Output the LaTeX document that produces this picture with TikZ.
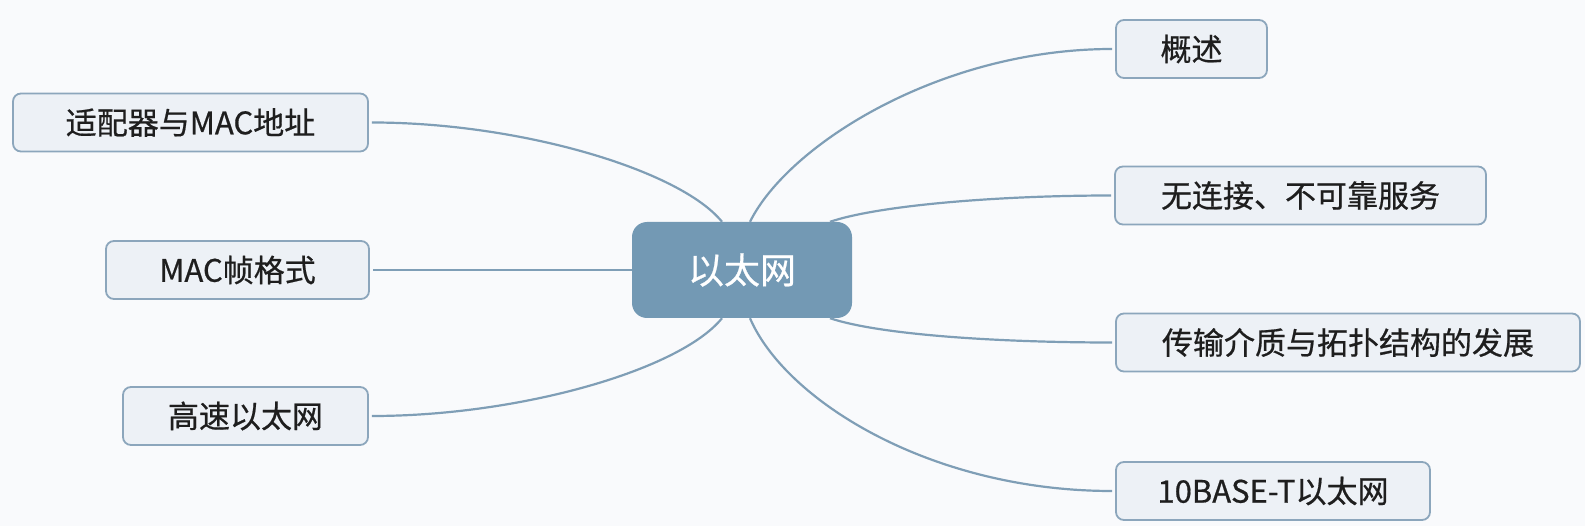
\documentclass[tikz,border=0pt]{standalone}
\usepackage{fontspec}
\setmainfont{Noto Sans CJK SC}
\newfontfamily\topicfont[FakeBold=0.6]{Noto Sans CJK SC}
\definecolor{bgc}{HTML}{F9FAFC}
\definecolor{hubfill}{HTML}{7399B4}
\definecolor{linec}{HTML}{7F9EB6}
\definecolor{boxfill}{HTML}{EDF1F6}
\definecolor{boxdraw}{HTML}{8CA6BC}
\definecolor{txt}{HTML}{1E1E1E}
\tikzset{
  hub/.style={fill=hubfill, draw=none, rounded corners=15pt, minimum width=220pt, minimum height=96pt, inner sep=0pt, text=white, font=\topicfont\fontsize{36}{40}\selectfont},
  topic/.style={fill=boxfill, draw=boxdraw, line width=1.8pt, rounded corners=8pt, minimum height=58pt, inner sep=0pt, text=txt, font=\topicfont\fontsize{31}{36}\selectfont},
  link/.style={draw=linec, line width=2.2pt}
}
\begin{document}
\begin{tikzpicture}[x=1pt,y=-1pt]
\fill[bgc] (0,0) rectangle (1585,526);
\useasboundingbox (0,0) rectangle (1585,526);
\node[hub] (h) at (742,270) {以太网};
\node[topic, minimum width=355pt] (a) at (190.5,122.5) {适配器与MAC地址};
\node[topic, minimum width=263pt] (b) at (237.5,270) {MAC帧格式};
\node[topic, minimum width=245pt] (c) at (245.5,416) {高速以太网};
\node[topic, minimum width=151pt] (d) at (1191.5,49) {概述};
\node[topic, minimum width=371pt] (e) at (1300.5,195.5) {无连接、不可靠服务};
\node[topic, minimum width=464pt] (f) at (1348,342.5) {传输介质与拓扑结构的发展};
\node[topic, minimum width=314pt] (g) at (1273,491) {10BASE-T以太网};
\path[link] ([xshift=-20pt]h.north) .. controls (680,170) and (520,122.5) .. ([xshift=3pt]a.east);
\path[link] (h.west) -- ([xshift=3pt]b.east);
\path[link] ([xshift=-20pt]h.south) .. controls (680,370) and (520,416) .. ([xshift=3pt]c.east);
\path[link] ([xshift=8pt]h.north) .. controls (788,145) and (940,49) .. ([xshift=-3pt]d.west);
\path[link] ([xshift=88pt]h.north) .. controls (880,205) and (1000,195.5) .. ([xshift=-3pt]e.west);
\path[link] ([xshift=88pt]h.south) .. controls (880,335) and (1000,342.5) .. ([xshift=-3pt]f.west);
\path[link] ([xshift=8pt]h.south) .. controls (785,400) and (930,491) .. ([xshift=-3pt]g.west);
\end{tikzpicture}
\end{document}
